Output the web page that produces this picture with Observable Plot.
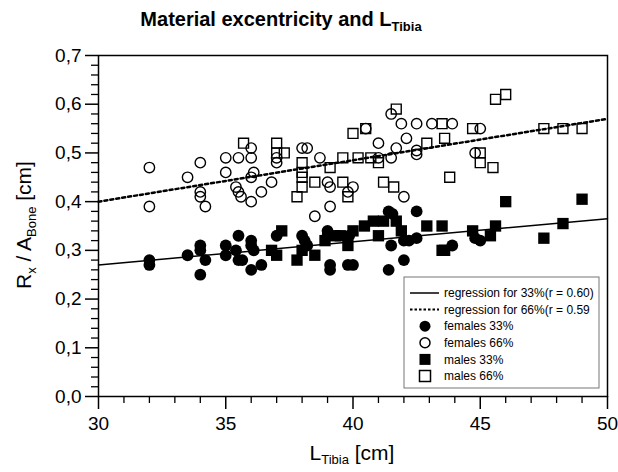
<!DOCTYPE html>
<html><head><meta charset="utf-8">
<script src="https://cdn.jsdelivr.net/npm/d3@7"></script>
<script src="https://cdn.jsdelivr.net/npm/@observablehq/plot@0.6"></script>
<style>
body{margin:0;background:#fff;font-family:"Liberation Sans",Arial,sans-serif;}
#title{width:562px;height:40px;box-sizing:border-box;padding-top:9px;text-align:center;font-weight:bold;font-size:20px;line-height:20px;}
#title sub{font-size:13px;vertical-align:-5px;line-height:0;}
svg{display:block;}
</style>
</head><body>
<div id="title">Material excentricity and L<sub>Tibia</sub></div>
<div id="chart"></div>
<script>
// ---- data: [L_Tibia cm, Rx/A_Bone cm]
const females33 = [[32,0.28],[32,0.27],[33.5,0.29],[34,0.31],[34,0.30],[34.2,0.28],[34,0.25],[35,0.31],[35,0.29],[35.5,0.33],[35.4,0.30],[35.5,0.28],[35.65,0.28],[36,0.32],[36,0.31],[36.1,0.30],[36,0.26],[36.4,0.27],[37,0.33],[38,0.33],[38.1,0.32],[38.2,0.31],[39,0.34],[39,0.33],[39.85,0.33],[39.1,0.27],[39.1,0.26],[39.8,0.27],[40,0.27],[41.4,0.38],[41.55,0.375],[42.5,0.38],[41.5,0.31],[42,0.28],[41.4,0.26],[42.5,0.325],[42.2,0.32],[42,0.32],[43.9,0.31],[44.8,0.325],[45,0.32]];
const females66 = [[32,0.47],[32,0.39],[33.5,0.45],[34,0.48],[34,0.42],[34,0.41],[34.2,0.39],[35,0.49],[35,0.46],[35.5,0.49],[35.4,0.43],[35.5,0.42],[35.6,0.41],[36,0.51],[36,0.49],[36.1,0.46],[36,0.45],[36,0.40],[36.4,0.42],[36.8,0.44],[37,0.49],[37,0.48],[38,0.51],[38.2,0.51],[38.7,0.49],[38.5,0.37],[39.1,0.39],[39,0.44],[39.1,0.43],[39.8,0.42],[40,0.43],[40.5,0.55],[41,0.52],[41,0.49],[41.5,0.58],[41.9,0.56],[42.5,0.56],[43.1,0.56],[43.9,0.56],[42.1,0.53],[41.7,0.51],[42.5,0.505],[42.5,0.497],[41.5,0.49],[42,0.41],[44.8,0.50],[45,0.55]];
const males33 = [[37.2,0.34],[37,0.29],[37.8,0.28],[36.8,0.30],[38,0.30],[38.5,0.29],[38.9,0.32],[39.3,0.33],[39.5,0.33],[39.8,0.31],[40,0.34],[40.45,0.35],[40.8,0.36],[41,0.33],[41.2,0.36],[41.7,0.36],[41.9,0.34],[42.9,0.35],[43.5,0.35],[43.6,0.30],[43.5,0.30],[44.7,0.34],[45.6,0.35],[45.4,0.33],[46,0.40],[47.5,0.325],[48.25,0.355],[49,0.405]];
const males66 = [[35.7,0.52],[37,0.52],[37.3,0.50],[37,0.50],[37.8,0.41],[38,0.48],[38,0.46],[38,0.45],[38,0.43],[38.5,0.44],[39.1,0.47],[39.6,0.49],[40.2,0.49],[40.7,0.49],[39.6,0.44],[39.8,0.41],[40,0.54],[40.5,0.55],[41,0.48],[41.2,0.44],[41.6,0.43],[41.7,0.59],[42.9,0.52],[43.6,0.53],[43.5,0.56],[43.8,0.45],[44.7,0.55],[45,0.50],[45,0.48],[45.5,0.47],[45.6,0.61],[46,0.62],[47.5,0.55],[48.25,0.55],[49,0.55]];
// regression lines (end values read at L = 30 and L = 50)
const regX = [30, 50];
const reg33Y = [0.27, 0.365];
const reg66Y = [0.40, 0.57];
// ticks
const xTicks = [30, 35, 40, 45, 50];
const xMinor = [31,32,33,34,36,37,38,39,41,42,43,44,46,47,48,49];
const yTicks = [0, 0.1, 0.2, 0.3, 0.4, 0.5, 0.6, 0.7];
const yMinor = [0.02,0.04,0.06,0.08,0.12,0.14,0.16,0.18,0.22,0.24,0.26,0.28,0.32,0.34,0.36,0.38,0.42,0.44,0.46,0.48,0.52,0.54,0.56,0.58,0.62,0.64,0.66,0.68];
const legendLabels = ["regression for 33%(r = 0.60)", "regression for 66%(r = 0.59", "females 33%", "females 66%", "males 33%", "males 66%"];

const line = (xs, ys) => xs.map((x, i) => ({x, y: ys[i]}));

const chart = Plot.plot({
  width: 618, height: 432,
  marginTop: 15, marginLeft: 98, marginRight: 11, marginBottom: 76,
  style: {fontFamily: "Liberation Sans, Arial, sans-serif", fontSize: "19px", color: "black", background: "white", overflow: "visible"},
  x: {domain: [30, 50]},
  y: {domain: [0, 0.7]},
  marks: [
    Plot.axisX(xMinor, {tickSize: 7, text: null, strokeWidth: 1.3, label: null}),
    Plot.axisX(xTicks, {tickSize: 13, tickPadding: 7, strokeWidth: 1.5, label: null, tickFormat: d => String(d)}),
    Plot.axisY(yMinor, {tickSize: 7, text: null, strokeWidth: 1.3, label: null}),
    Plot.axisY(yTicks, {tickSize: 13, tickPadding: 4, strokeWidth: 1.5, label: null, tickFormat: d => d.toFixed(1).replace(".", ",")}),
    Plot.frame({stroke: "black", strokeWidth: 1.5}),
    Plot.line(line(regX, reg33Y), {x: "x", y: "y", stroke: "black", strokeWidth: 1.5}),
    Plot.line(line(regX, reg66Y), {x: "x", y: "y", stroke: "black", strokeWidth: 2.5, strokeDasharray: "3,3"}),
    Plot.dot(females66, {x: d => d[0], y: d => d[1], r: 5.2, stroke: "black", strokeWidth: 1.4, fill: "white", fillOpacity: 0}),
    Plot.dot(males66, {x: d => d[0], y: d => d[1], r: 5.6, symbol: "square", stroke: "black", strokeWidth: 1.4, fill: "none"}),
    Plot.dot(females33, {x: d => d[0], y: d => d[1], r: 5.9, fill: "black", stroke: "none"}),
    Plot.dot(males33, {x: d => d[0], y: d => d[1], r: 6.4, symbol: "square", fill: "black", stroke: "none"})
  ]
});
document.getElementById("chart").appendChild(chart);

const svg = d3.select(chart);
// axis titles with subscripts
const xt = svg.append("text").attr("x", 352).attr("y", 420).attr("text-anchor", "middle")
  .attr("font-size", 21).attr("fill", "black");
xt.append("tspan").text("L");
xt.append("tspan").attr("font-size", 13).attr("dy", 4).text("Tibia");
xt.append("tspan").attr("dy", -4).text(" [cm]");

const yt = svg.append("text").attr("transform", "translate(31,185) rotate(-90)").attr("text-anchor", "middle")
  .attr("font-size", 21).attr("fill", "black");
yt.append("tspan").text("R");
yt.append("tspan").attr("font-size", 13).attr("dy", 5).text("x");
yt.append("tspan").attr("dy", -5).text(" / A");
yt.append("tspan").attr("font-size", 13).attr("dy", 5).text("Bone");
yt.append("tspan").attr("dy", -5).text(" [cm]");

// legend
const lg = svg.append("g").attr("transform", "translate(404,237)").attr("text-anchor", "start");
lg.append("rect").attr("width", 195).attr("height", 111).attr("fill", "white").attr("stroke", "#777").attr("stroke-width", 1);
const rowY = i => 16 + i * 16.6;
legendLabels.forEach((t, i) => {
  lg.append("text").attr("x", 40).attr("y", rowY(i)).attr("dy", "0.35em").attr("text-anchor", "start").attr("font-size", 12).attr("fill", "black").text(t);
});
lg.append("line").attr("x1", 6).attr("x2", 35).attr("y1", rowY(0)).attr("y2", rowY(0)).attr("stroke", "black").attr("stroke-width", 1.5);
lg.append("line").attr("x1", 6).attr("x2", 35).attr("y1", rowY(1)).attr("y2", rowY(1)).attr("stroke", "black").attr("stroke-width", 2).attr("stroke-dasharray", "2.5,2");
lg.append("circle").attr("cx", 21).attr("cy", rowY(2)).attr("r", 5.5).attr("fill", "black");
lg.append("circle").attr("cx", 21).attr("cy", rowY(3)).attr("r", 5).attr("fill", "none").attr("stroke", "black").attr("stroke-width", 1.5);
lg.append("rect").attr("x", 15.5).attr("y", rowY(4) - 5.5).attr("width", 11).attr("height", 11).attr("fill", "black");
lg.append("rect").attr("x", 15.5).attr("y", rowY(5) - 5.5).attr("width", 11).attr("height", 11).attr("fill", "none").attr("stroke", "black").attr("stroke-width", 1.5);
</script>
</body></html>
